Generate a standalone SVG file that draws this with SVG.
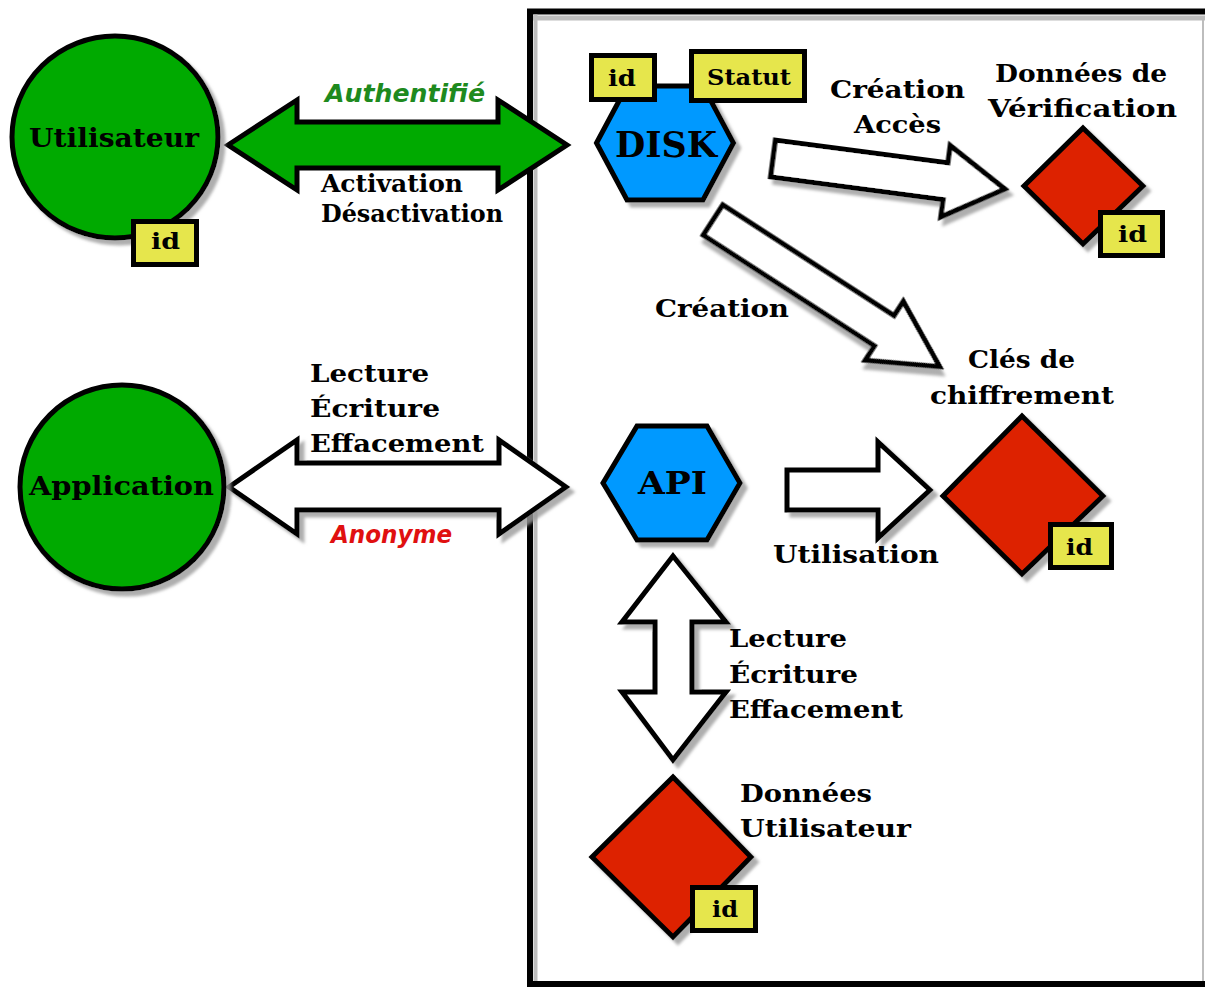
<svg xmlns="http://www.w3.org/2000/svg" width="1205" height="987" viewBox="0 0 1205 987">
<defs>
<filter id="sh" x="-10%" y="-10%" width="130%" height="130%">
<feDropShadow dx="5" dy="5" stdDeviation="1.5" flood-color="#9a9a9a" flood-opacity="0.8"/>
</filter>
<style>
.lbl{font-family:"DejaVu Serif","Liberation Serif",serif;font-weight:bold;font-size:24px;fill:#000;}
.big{font-family:"DejaVu Serif","Liberation Serif",serif;font-weight:bold;font-size:26px;fill:#000;}
.it{font-family:"DejaVu Sans","Liberation Sans",sans-serif;font-style:italic;font-weight:bold;font-size:25px;}
.idt{font-family:"DejaVu Serif","Liberation Serif",serif;font-weight:bold;font-size:22px;fill:#000;}
.tag{fill:#E6E64C;stroke:#000;stroke-width:5;}
.actor{fill:#00AA00;stroke:#000;stroke-width:5;filter:url(#sh);}
.hex{fill:#0099FF;stroke:#000;stroke-width:5;stroke-linejoin:miter;filter:url(#sh);}
.store{fill:#DD2200;stroke:#000;stroke-width:5;stroke-linejoin:miter;filter:url(#sh);}
.arw{fill:#fff;stroke:#000;stroke-width:5;stroke-linejoin:miter;filter:url(#sh);}
.arwg{fill:#00AA00;stroke:#000;stroke-width:5;stroke-linejoin:miter;}
</style>
</defs>
<rect width="1205" height="987" fill="#fff"/>

<g id="system-boundary">
<rect x="530" y="11.5" width="700" height="972.5" fill="#fff" stroke="#000" stroke-width="6"/>
<line x1="535.5" y1="14.5" x2="535.5" y2="981" stroke="#bdbdbd" stroke-width="4"/>
<line x1="533" y1="18" x2="1205" y2="18" stroke="#bdbdbd" stroke-width="5"/>
<line x1="1203" y1="20" x2="1203" y2="981" stroke="#bdbdbd" stroke-width="2"/>
</g>

<g id="connectors">
<polygon class="arwg" points="228,145 297,100 297,122 498,122 498,100 567,145 498,190 498,168 297,168 297,190"/>
<polygon class="arw" points="229,487 297,440 297,463 499,463 499,440 566,487 499,534 499,510 297,510 297,534"/>
<polygon class="arw" transform="translate(773,158.5) rotate(7.5)" points="0,-18.5 174,-18.5 174,-36 234,0 174,36 174,18.5 0,18.5"/>
<polygon class="arw" transform="translate(713,220) rotate(32.9)" points="0,-18 204,-18 204,-35 270,0 204,35 204,18 0,18"/>
<polygon class="arw" points="787,470 878,470 878,442 930,490 878,538 878,510 787,510"/>
<polygon class="arw" points="673,556 726,622 692,622 692,692 726,692 673,760 622,692 655,692 655,622 622,622"/>
<text class="it" x="325" y="102" textLength="160" lengthAdjust="spacingAndGlyphs" fill="#1E8A1E">Authentifié</text>
<text class="lbl" x="321" y="192" textLength="142" lengthAdjust="spacingAndGlyphs">Activation</text>
<text class="lbl" x="321" y="222" textLength="182" lengthAdjust="spacingAndGlyphs">Désactivation</text>
<text class="lbl" x="310" y="382" textLength="119" lengthAdjust="spacingAndGlyphs">Lecture</text>
<text class="lbl" x="310" y="417" textLength="130" lengthAdjust="spacingAndGlyphs">Écriture</text>
<text class="lbl" x="310" y="452" textLength="174" lengthAdjust="spacingAndGlyphs">Effacement</text>
<text class="it" x="331" y="543" textLength="121" lengthAdjust="spacingAndGlyphs" fill="#E01010">Anonyme</text>
<text class="lbl" x="830" y="98" textLength="135" lengthAdjust="spacingAndGlyphs">Création</text>
<text class="lbl" x="854" y="133" textLength="87" lengthAdjust="spacingAndGlyphs">Accès</text>
<text class="lbl" x="655" y="317" textLength="134" lengthAdjust="spacingAndGlyphs">Création</text>
<text class="lbl" x="773" y="563" textLength="166" lengthAdjust="spacingAndGlyphs">Utilisation</text>
<text class="lbl" x="729" y="647" textLength="118" lengthAdjust="spacingAndGlyphs">Lecture</text>
<text class="lbl" x="729" y="683" textLength="129" lengthAdjust="spacingAndGlyphs">Écriture</text>
<text class="lbl" x="729" y="718" textLength="174" lengthAdjust="spacingAndGlyphs">Effacement</text>
</g>

<g id="utilisateur">
<ellipse class="actor" cx="115" cy="137" rx="103" ry="101"/>
<text class="big" x="29" y="147" textLength="170" lengthAdjust="spacingAndGlyphs">Utilisateur</text>
<rect class="tag" x="133.5" y="221.5" width="63" height="43"/>
<text class="idt" x="151" y="249" textLength="29" lengthAdjust="spacingAndGlyphs">id</text>
</g>

<g id="application">
<ellipse class="actor" cx="122" cy="487" rx="102" ry="102"/>
<text class="big" x="29" y="495" textLength="185" lengthAdjust="spacingAndGlyphs">Application</text>
</g>

<g id="disk">
<polygon class="hex" points="596.5,143 627,86 703,86 733.5,143 703,200 627,200"/>
<text class="big" x="615" y="157" textLength="102" lengthAdjust="spacingAndGlyphs" style="font-size:35px">DISK</text>
<rect class="tag" x="591.5" y="55.5" width="63" height="44"/>
<text class="idt" x="608" y="86" textLength="28" lengthAdjust="spacingAndGlyphs">id</text>
<rect class="tag" x="691.5" y="51.5" width="113" height="49"/>
<text class="idt" x="707" y="85" textLength="84" lengthAdjust="spacingAndGlyphs">Statut</text>
</g>

<g id="donnees-verification">
<polygon class="store" points="1083,128 1143,186 1083,244 1024,186"/>
<rect class="tag" x="1100.5" y="212.5" width="62" height="43"/>
<text class="idt" x="1118" y="242" textLength="29" lengthAdjust="spacingAndGlyphs">id</text>
<text class="lbl" x="995" y="82" textLength="172" lengthAdjust="spacingAndGlyphs">Données de</text>
<text class="lbl" x="988" y="117" textLength="189" lengthAdjust="spacingAndGlyphs">Vérification</text>
</g>

<g id="cles-chiffrement">
<polygon class="store" points="1022,416 1103,496 1022,574 943,496"/>
<rect class="tag" x="1050.5" y="524.5" width="61" height="43"/>
<text class="idt" x="1066" y="555" textLength="27" lengthAdjust="spacingAndGlyphs">id</text>
<text class="lbl" x="968" y="368" textLength="107" lengthAdjust="spacingAndGlyphs">Clés de</text>
<text class="lbl" x="930" y="404" textLength="184" lengthAdjust="spacingAndGlyphs">chiffrement</text>
</g>

<g id="api">
<polygon class="hex" points="603,483 637,426 707,426 740,483 707,540 637,540"/>
<text class="big" x="638" y="494" textLength="69" lengthAdjust="spacingAndGlyphs" style="font-size:31px">API</text>
</g>

<g id="donnees-utilisateur">
<polygon class="store" points="673,777 751,857 673,937 592,857"/>
<rect class="tag" x="692.5" y="887.5" width="63" height="43"/>
<text class="idt" x="712" y="917" textLength="26" lengthAdjust="spacingAndGlyphs">id</text>
<text class="lbl" x="740" y="802" textLength="132" lengthAdjust="spacingAndGlyphs">Données</text>
<text class="lbl" x="740" y="837" textLength="171" lengthAdjust="spacingAndGlyphs">Utilisateur</text>
</g>
</svg>
